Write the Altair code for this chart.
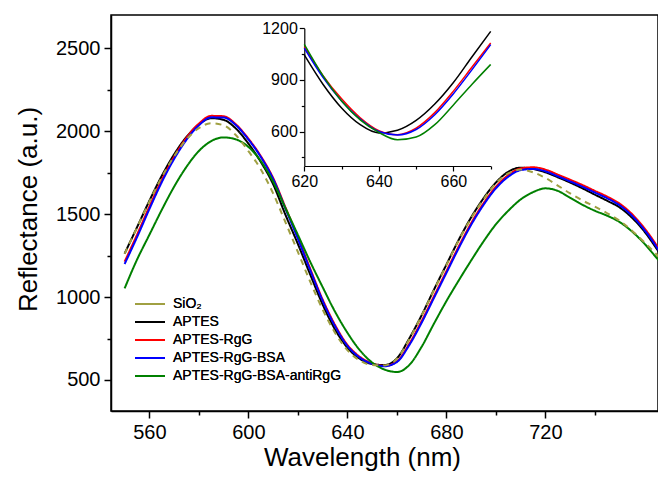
import altair as alt
import pandas as pd

# ---------------- data ----------------
names = ["SiO₂", "APTES", "APTES-RgG", "APTES-RgG-BSA", "APTES-RgG-BSA-antiRgG"]
colors = ["#A0A042", "#000000", "#FF0000", "#0000FF", "#008000"]
dashes = [[6, 5], [1, 0], [1, 0], [1, 0], [1, 0]]

wl = [550, 555, 560, 565, 570, 575, 580, 585, 590, 595, 600, 605, 610, 615, 620,
      625, 630, 635, 640, 645, 650, 655, 660, 665, 670, 675, 680, 685, 690, 695,
      700, 705, 710, 715, 720, 725, 730, 735, 740, 745, 750, 755, 760, 765, 768]

sio2 = [1260, 1418, 1575, 1722, 1848, 1950, 2018, 2048, 2035, 1975, 1880, 1770, 1625, 1450, 1272,
        1092, 925, 785, 680, 618, 590, 588, 628, 745, 888, 1042, 1192, 1342, 1475, 1588,
        1685, 1745, 1768, 1752, 1718, 1672, 1625, 1582, 1545, 1505, 1460, 1400, 1330, 1255, 1205]
aptes = [1262, 1420, 1580, 1730, 1860, 1965, 2040, 2078, 2068, 2015, 1925, 1815, 1680, 1495, 1320,
         1135, 955, 805, 695, 628, 596, 590, 630, 750, 890, 1045, 1195, 1345, 1480, 1595,
         1690, 1755, 1780, 1772, 1752, 1722, 1690, 1655, 1617, 1580, 1540, 1478, 1395, 1290, 1222]
rgg = [1213, 1375, 1545, 1705, 1845, 1960, 2045, 2092, 2090, 2040, 1955, 1850, 1718, 1540, 1360,
       1170, 985, 832, 712, 640, 600, 585, 612, 718, 855, 1005, 1155, 1305, 1445, 1565,
       1665, 1735, 1775, 1782, 1768, 1738, 1707, 1675, 1640, 1605, 1563, 1500, 1415, 1310, 1238]
bsa = [1199, 1360, 1530, 1692, 1832, 1948, 2035, 2083, 2082, 2035, 1950, 1845, 1712, 1532, 1352,
       1162, 978, 825, 706, 635, 597, 583, 608, 710, 845, 995, 1145, 1295, 1435, 1555,
       1655, 1725, 1765, 1772, 1758, 1728, 1697, 1665, 1630, 1595, 1553, 1490, 1405, 1300, 1228]
anti = [1052, 1225, 1375, 1525, 1665, 1785, 1880, 1940, 1962, 1950, 1905, 1820, 1695, 1535, 1375,
        1212, 1060, 912, 785, 680, 605, 563, 548, 590, 700, 840, 975, 1100, 1220, 1335,
        1438, 1520, 1588, 1632, 1655, 1640, 1598, 1556, 1520, 1490, 1452, 1395, 1322, 1235, 1185]

# inset (zoom of the minimum)
inset_wl = [620, 625, 630, 635, 640, 645, 650, 655, 660, 665, 670]
in_aptes = [1045, 875, 737, 640, 592, 608, 665, 760, 885, 1035, 1182]
in_rgg = [1093, 925, 790, 680, 605, 582, 620, 710, 835, 975, 1115]
in_bsa = [1085, 915, 778, 672, 600, 580, 612, 698, 820, 960, 1105]
in_anti = [1107, 925, 778, 668, 595, 552, 568, 640, 755, 875, 990]

x_ticks = [560, 580, 600, 620, 640, 660, 680, 700, 720, 740]
y_ticks = [500, 750, 1000, 1250, 1500, 1750, 2000, 2250, 2500]
ix_ticks = [620, 630, 640, 650, 660, 670]
iy_ticks = [450, 600, 750, 900, 1050, 1200]

# ---------------- tables ----------------
draw_order = [(names[1], aptes), (names[2], rgg), (names[3], bsa), (names[4], anti), (names[0], sio2)]
rows = []
for nm, vals in draw_order:
    for w, v in zip(wl, vals):
        rows.append({"wl": w, "val": v, "series": nm})
df_main = pd.DataFrame(rows)

rows = []
for nm, vals in [(names[1], in_aptes), (names[2], in_rgg), (names[3], in_bsa), (names[4], in_anti)]:
    for w, v in zip(inset_wl, vals):
        rows.append({"wl": w, "val": v, "series": nm})
df_inset = pd.DataFrame(rows)

FONT = "Liberation Sans"
W, H = 547, 396

legend = alt.Legend(
    title=None, orient="none", legendX=32, legendY=282,
    symbolType="M-3,0H3", symbolSize=100, symbolStrokeWidth=2,
    labelFontSize=14, labelFont=FONT, labelColor="black", labelFontWeight="normal",
    labelLimit=0, labelOffset=16, rowPadding=4, padding=0,
)

main = alt.Chart(df_main).mark_line(strokeWidth=2, interpolate="monotone", clip=True).encode(
    x=alt.X("wl:Q",
            scale=alt.Scale(domain=[544.5, 765.5], nice=False, zero=False),
            axis=alt.Axis(title="Wavelength (nm)", values=x_ticks, format="d",
                          labelExpr="datum.value % 40 === 0 ? datum.label : ''",
                          tickSize={"condition": {"test": "datum.value % 40 === 0", "value": 7}, "value": 4},
                          labelFontSize=20, titleFontSize=26, labelPadding=4,
                          titleX=251, titleY=54, titleBaseline="alphabetic", titleAlign="center",
                          tickWidth=1.5, domainWidth=1.5, labelFlush=False)),
    y=alt.Y("val:Q",
            scale=alt.Scale(domain=[313, 2700], nice=False, zero=False),
            axis=alt.Axis(title="Reflectance (a.u.)", values=y_ticks, format="d",
                          labelExpr="datum.value % 500 === 0 ? datum.label : ''",
                          tickSize={"condition": {"test": "datum.value % 500 === 0", "value": 7}, "value": 4},
                          labelFontSize=20, titleFontSize=26, labelPadding=4,
                          titleX=-83, titleY=194, titleBaseline="middle", titleAlign="center",
                          tickWidth=1.5, domainWidth=1.5, labelFlush=False)),
    color=alt.Color("series:N", scale=alt.Scale(domain=names, range=colors), legend=legend),
    strokeDash=alt.StrokeDash("series:N", scale=alt.Scale(domain=names, range=dashes), legend=legend),
)

inset = alt.Chart(df_inset).mark_line(strokeWidth=1.5, interpolate="monotone").encode(
    x=alt.X("wl:Q",
            scale=alt.Scale(domain=[620, 670], range=[193.3, 379.7], nice=False, zero=False),
            axis=alt.Axis(title=None, orient="bottom", offset=-245, values=ix_ticks, format="d",
                          labelExpr="datum.value % 20 === 0 ? datum.label : ''",
                          tickSize={"condition": {"test": "datum.value % 20 === 0", "value": 5}, "value": 3},
                          labelFontSize=16, labelPadding=2, tickWidth=1.2, domainWidth=1.2,
                          labelFlush=False)),
    y=alt.Y("val:Q",
            scale=alt.Scale(domain=[400, 1200], range=[151, 13.3], nice=False, zero=False),
            axis=alt.Axis(title=None, orient="left", offset=-193.3, values=iy_ticks, format="d",
                          labelExpr="datum.value % 300 === 0 ? datum.label : ''",
                          tickSize={"condition": {"test": "datum.value % 300 === 0", "value": 5}, "value": 3},
                          labelFontSize=16, labelPadding=2, tickWidth=1.2, domainWidth=1.2,
                          labelFlush=False)),
    color=alt.Color("series:N", scale=alt.Scale(domain=names[1:], range=colors[1:]), legend=None),
)

chart = alt.layer(main, inset).resolve_scale(
    x="independent", y="independent", color="independent"
).properties(
    width=W, height=H,
    autosize=alt.AutoSizeParams(type="none"),
    padding={"left": 103, "top": 7, "right": 0, "bottom": 60},
).configure_view(
    stroke="black", strokeWidth=1.5
).configure_axis(
    grid=False, domainColor="black", tickColor="black", labelColor="black",
    titleColor="black", labelFont=FONT, titleFont=FONT, titleFontWeight="normal",
)

chart.save("out.html", embed_options={"renderer": "svg", "actions": False})
